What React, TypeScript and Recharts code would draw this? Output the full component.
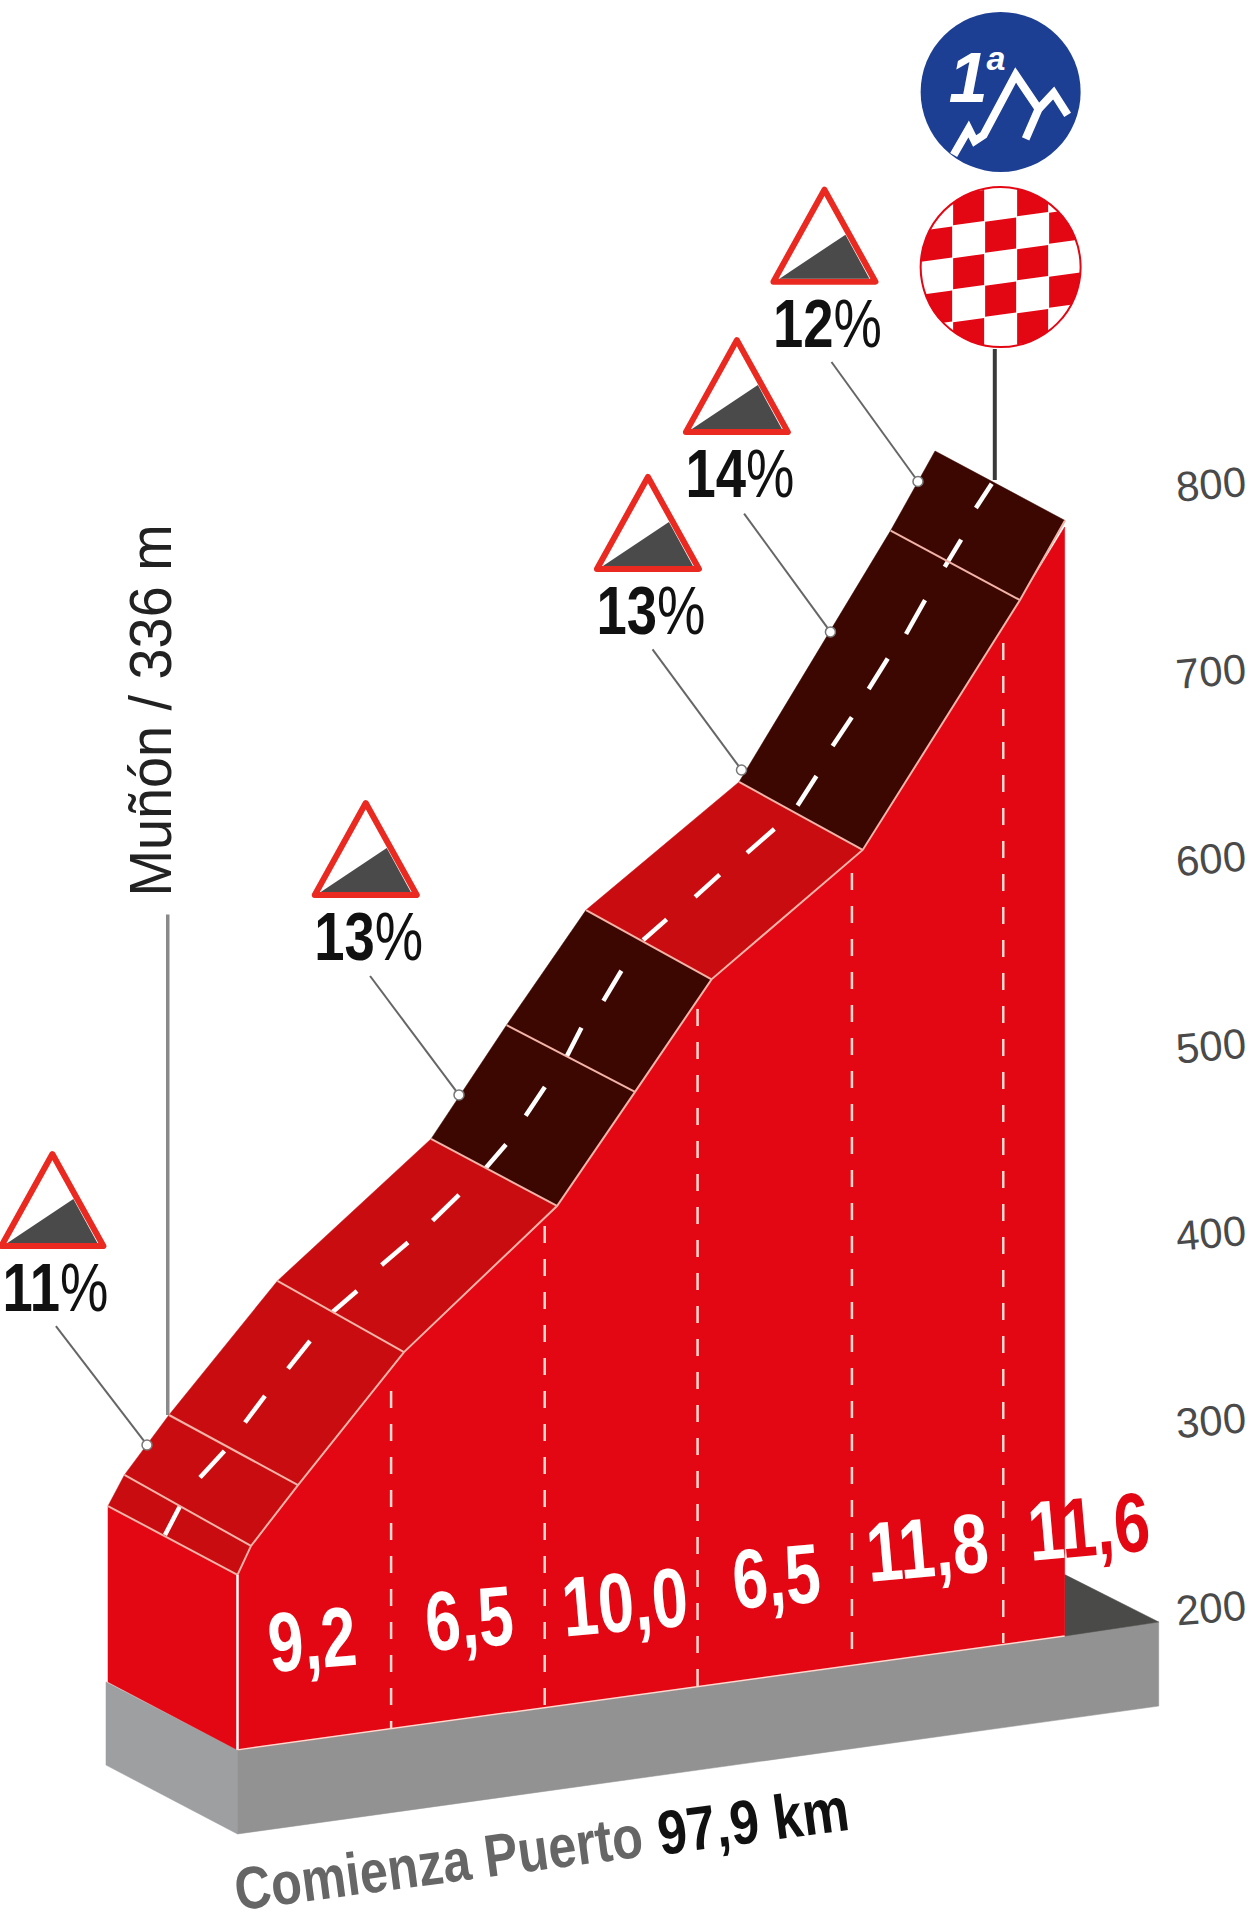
import React from 'react';
import { ComposedChart, Scatter, XAxis, YAxis, ReferenceDot } from 'recharts';

// climb profile: x in km from the foot of the climb, y in metres
const elevationTicks = [200, 300, 400, 500, 600, 700, 800];

const farKm = [-0.843, -0.736, -0.446, 0.26, 1.26, 1.752, 2.269, 3.265, 4.252, 4.541];
const farM = [255.5, 272.1, 304.1, 375.7, 451.5, 512.3, 573.7, 642.1, 776.3, 818.8];
const nearKm = [0, 0.088, 0.394, 1.084, 2.08, 2.588, 3.086, 4.07, 5.094, 5.387];
const nearM = [218.7, 234.2, 266.7, 337.7, 415.7, 476.6, 536.7, 605.8, 739.2, 781.7];

const wallKm = [5.385, 5.385, 0];
const wallM = [778.2, 186.1, 125.3];

const sideKm = [-0.843, 0, 0, -0.843];
const sideM = [255.5, 218.7, 125.3, 161.6];

const plinthSideKm = [-0.856, 0, 0, -0.856];
const plinthSideM = [161.6, 125.3, 80.4, 117.2];
const plinthFrontKm = [0, 5.997, 5.997, 0];
const plinthFrontM = [125.3, 193.6, 148.7, 80.4];
const plinthBackKm = [5.385, 5.997, 5.385];
const plinthBackM = [218.9, 193.6, 186.1];

// stretches of the road, as index ranges over the far and near edges
const steepStretches = [
  { from: 0, to: 4, dark: false },
  { from: 4, to: 6, dark: true },
  { from: 6, to: 7, dark: false },
  { from: 7, to: 9, dark: true },
];
const crossLines = [0, 1, 2, 3, 4, 5, 6, 7, 8];

const kmMarksKm = [1, 2, 2.995, 4, 4.985];
const kmMarksTop = [316.9, 405, 520.9, 593.5, 716.3];
const kmMarksBottom = [136.5, 148.2, 159.4, 170.6, 182.4];

const dashFromKm = [-0.472, -0.244, 0.049, 0.329, 0.619, 0.938, 1.27, 1.616, 1.876, 2.143, 2.382, 2.641, 2.979, 3.317, 3.646, 3.874, 4.109, 4.352, 4.604, 4.807];
const dashToKm = [-0.374, -0.085, 0.179, 0.472, 0.778, 1.11, 1.442, 1.748, 2.001, 2.239, 2.499, 2.794, 3.139, 3.495, 3.769, 3.999, 4.233, 4.476, 4.711, 4.91];
const dashFromM = [240, 270.7, 300.1, 328.9, 359.1, 384.2, 407.9, 436, 463.9, 495.5, 525.2, 557.7, 580.7, 604.2, 629.5, 661.3, 691.7, 721.1, 756.9, 788.4];
const dashToM = [255.5, 284.9, 314.3, 343.6, 370.3, 396.2, 421.6, 448.5, 479.2, 510.9, 541.3, 568.7, 592.6, 617, 645.3, 676.6, 708, 739.2, 771.5, 801.3];

const gradeLabels = ['9,2', '6,5', '10,0', '6,5', '11,8', '11,6'];
const gradeKm = [0.485, 1.507, 2.52, 3.506, 4.489, 5.54];
const gradeM = [185.3, 196.5, 205.3, 219, 234.4, 245.6];

const signLabels = ['11', '13', '13', '14', '12'];
const signKm = [-1.205, 0.835, 2.672, 3.251, 3.821];
const signM = [394.3, 581.7, 755.8, 828.9, 909.2];
const leaderKm = [-1.182, 0.863, 2.702, 3.298, 3.867];
const leaderM = [351.6, 538.5, 712.9, 785.4, 866.3];
const dotKm = [-0.589, 1.442, 3.281, 3.86, 4.43];
const dotM = [288.1, 475, 648.5, 722.2, 802.5];

const townPole = { km: [-0.454, -0.454], m: [571.3, 304.1] };
const summitPole = { km: [4.93, 4.93], m: [873.3, 803.3] };

const NARROW = '"Liberation Sans Narrow", "Liberation Sans", sans-serif';
const RED = '#e30613';
const ROAD_RED = '#c80c0f';
const ROAD_DARK = '#3c0700';
const EDGE = '#f2b3a8';

function rows(km: number[], m: number[]) {
  return km.map((k, i) => ({ km: k, m: m[i] }));
}

const noSymbol = () => <g />;

function area(key: string, data: any[], fill: string) {
  return (
    <Scatter
      key={key}
      data={data}
      isAnimationActive={false}
      shape={noSymbol}
      line={(p: any) => (
        <polygon key={key} points={p.points.map((q: any) => `${q.x},${q.y}`).join(' ')} fill={fill} stroke={fill} strokeWidth={0.5} />
      )}
    />
  );
}

function stroke(key: string, data: any[], color: string, width: number, dash?: string) {
  return (
    <Scatter
      key={key}
      data={data}
      isAnimationActive={false}
      shape={noSymbol}
      line={(p: any) => (
        <polyline
          key={key}
          points={p.points.map((q: any) => `${q.x},${q.y}`).join(' ')}
          fill="none"
          stroke={color}
          strokeWidth={width}
          strokeDasharray={dash}
        />
      )}
    />
  );
}

function ElevationTick(p: any) {
  const x = 1211;
  const y = p.y - 2;
  return (
    <text
      x={x}
      y={y}
      textAnchor="middle"
      dominantBaseline="central"
      transform={`rotate(-5 ${x} ${y})`}
      fontFamily='"Liberation Sans", sans-serif'
      fontSize={42}
      fill="#4a4a4a"
    >
      {p.payload.value}
    </text>
  );
}

function GradeSign({ cx, cy, label }: any) {
  return (
    <g>
      <path
        d={`M${cx - 51} ${cy} L${cx} ${cy - 92} L${cx + 51} ${cy} Z`}
        fill="#fff"
        stroke="#ea2a20"
        strokeWidth={6}
        strokeLinejoin="round"
      />
      <path d={`M${cx - 45} ${cy - 3} L${cx + 21} ${cy - 47} L${cx + 45} ${cy - 3} Z`} fill="#4a4a4a" />
      <text
        textAnchor="middle"
        transform={`translate(${cx + 3} ${cy + 65}) scale(0.8 1)`}
        fontFamily={NARROW}
        fontWeight={700}
        fontSize={68}
        fill="#111"
      >
        {label}
        <tspan fontWeight={400}>%</tspan>
      </text>
    </g>
  );
}

function GradeText({ cx, cy, label, last }: any) {
  const wide = label.length > 3;
  const len = label === '10,0' ? 126 : wide ? 122 : 88;
  return (
    <text
      x={cx}
      y={cy + 31}
      textAnchor="middle"
      transform={`rotate(-5 ${cx} ${cy})`}
      fontFamily={NARROW}
      fontWeight={700}
      fontSize={84}
      textLength={len}
      lengthAdjust="spacingAndGlyphs"
      fill={last ? RED : '#fff'}
    >
      {last ? (
        <>
          <tspan fill="#fff">{label.slice(0, 1)}</tspan>
          {label.slice(1)}
        </>
      ) : (
        label
      )}
    </text>
  );
}

function CategoryBadge({ cx, cy }: any) {
  return (
    <g>
      <circle cx={cx} cy={cy} r={80} fill="#1c3f94" />
      <g transform={`translate(${cx} ${cy})`}>
        <polyline points="-47,63 -32,37 -26,49 -17,43 15,-17 38,17 25,47" fill="none" stroke="#fff" strokeWidth={8} />
        <polyline points="38,17 53,1 67,23" fill="none" stroke="#fff" strokeWidth={8} />
        <text x={-52} y={10} fontFamily='"Liberation Sans", sans-serif' fontStyle="italic" fontWeight={700} fontSize={70} fill="#fff">
          1<tspan dx={-1} dy={-32} fontSize={34}>a</tspan>
        </text>
      </g>
    </g>
  );
}

function SummitFlag({ cx, cy }: any) {
  const cells: React.ReactNode[] = [];
  for (let col = -3; col <= 3; col++) {
    for (let row = -3; row <= 3; row++) {
      if ((col + row) % 2 !== 0) {
        cells.push(<rect key={`${col}_${row}`} x={col * 32 - 15.5} y={row * 32 - 15.5} width={31} height={31} fill="#e30613" />);
      }
    }
  }
  return (
    <g>
      <defs>
        <clipPath id="flagClip">
          <circle cx={cx} cy={cy} r={80} />
        </clipPath>
      </defs>
      <circle cx={cx} cy={cy} r={80} fill="#fff" />
      <g clipPath="url(#flagClip)">
        <g transform={`translate(${cx} ${cy}) skewY(-8)`}>{cells}</g>
      </g>
      <circle cx={cx} cy={cy} r={80} fill="none" stroke="#e30613" strokeWidth={2} />
    </g>
  );
}

export default function App() {
  const far = rows(farKm, farM);
  const near = rows(nearKm, nearM);

  return (
    <div style={{ position: 'absolute', left: 0, top: 0, width: 1257, height: 1922, overflow: 'hidden', background: '#fff' }}>
      <ComposedChart width={1257} height={1922} margin={{ top: 0, right: 0, bottom: 0, left: 0 }}>
        <XAxis type="number" dataKey="km" domain={[-1.546, 6.038]} allowDataOverflow hide />
        <YAxis
          type="number"
          dataKey="m"
          orientation="right"
          width={92}
          domain={[33.4, 1059.6]}
          ticks={elevationTicks}
          allowDataOverflow
          axisLine={false}
          tickLine={false}
          tick={ElevationTick}
        />

        {area('plinthSide', rows(plinthSideKm, plinthSideM), '#9d9fa1')}
        {area('plinthFront', rows(plinthFrontKm, plinthFrontM), '#929292')}
        {area('plinthBack', rows(plinthBackKm, plinthBackM), '#4a4a49')}
        {area('side', rows(sideKm, sideM), RED)}
        {area('wall', [...near.slice(0, 9), ...rows(wallKm, wallM)], RED)}

        {steepStretches.map((s) =>
          area(`road${s.from}`, [...far.slice(s.from, s.to + 1), ...near.slice(s.from, s.to + 1).reverse()], s.dark ? ROAD_DARK : ROAD_RED)
        )}

        {kmMarksKm.map((k, i) => stroke(`km${k}`, rows([k, k], [kmMarksTop[i], kmMarksBottom[i]]), '#ffd9d0', 2.5, '17 16'))}
        {dashFromKm.map((k, i) => stroke(`dash${i}`, rows([k, dashToKm[i]], [dashFromM[i], dashToM[i]]), '#ffffff', 4.5))}
        {crossLines.map((i) => stroke(`cross${i}`, [far[i], near[i]], EDGE, 2))}
        {stroke('nearEdge', near, EDGE, 2)}
        {stroke('foot', rows([0, 0], [218.7, 125.3]), '#ffffff', 2.5)}
        {stroke('base', rows([0, 5.385], [125.3, 186.1]), '#ffd9d0', 1.5)}

        {stroke('townPole', rows(townPole.km, townPole.m), '#8a8a8a', 3.5)}
        {stroke('summitPole', rows(summitPole.km, summitPole.m), '#3a3a3a', 4)}
        {leaderKm.map((k, i) => stroke(`leader${i}`, rows([k, dotKm[i]], [leaderM[i], dotM[i]]), '#666666', 2))}

        {dotKm.map((k, i) => (
          <ReferenceDot key={`dot${i}`} x={k} y={dotM[i]} r={5} fill="#ffffff" stroke="#777777" strokeWidth={1.5} />
        ))}
        {signLabels.map((label, i) => (
          <ReferenceDot key={`sign${i}`} x={signKm[i]} y={signM[i]} shape={(p: any) => <GradeSign {...p} label={label} />} />
        ))}
        {gradeLabels.map((label, i) => (
          <ReferenceDot
            key={`grade${i}`}
            x={gradeKm[i]}
            y={gradeM[i]}
            shape={(p: any) => <GradeText {...p} label={label} last={i === gradeLabels.length - 1} />}
          />
        ))}
        <ReferenceDot x={4.968} y={1010.5} shape={CategoryBadge} />
        <ReferenceDot x={4.968} y={917} shape={SummitFlag} />
        <ReferenceDot
          x={-0.43}
          y={581}
          shape={(p: any) => (
            <text
              x={p.cx}
              y={p.cy}
              transform={`rotate(-90 ${p.cx} ${p.cy})`}
              fontFamily={NARROW}
              fontSize={60}
              textLength={372}
              lengthAdjust="spacingAndGlyphs"
              fill="#222"
            >
              Muñón / 336 m
            </text>
          )}
        />
        <ReferenceDot
          x={0}
          y={39.5}
          shape={(p: any) => (
            <text
              x={p.cx}
              y={p.cy}
              transform={`rotate(-7.6 ${p.cx} ${p.cy})`}
              fontFamily={NARROW}
              fontWeight={700}
              fontSize={60}
              textLength={411}
              lengthAdjust="spacingAndGlyphs"
              fill="#666666"
            >
              Comienza Puerto
            </text>
          )}
        />
        <ReferenceDot
          x={2.755}
          y={69.2}
          shape={(p: any) => (
            <text
              x={p.cx}
              y={p.cy}
              transform={`rotate(-7.6 ${p.cx} ${p.cy})`}
              fontFamily={NARROW}
              fontWeight={700}
              fontSize={62}
              textLength={192}
              lengthAdjust="spacingAndGlyphs"
              fill="#111"
            >
              97,9 km
            </text>
          )}
        />
      </ComposedChart>
    </div>
  );
}
